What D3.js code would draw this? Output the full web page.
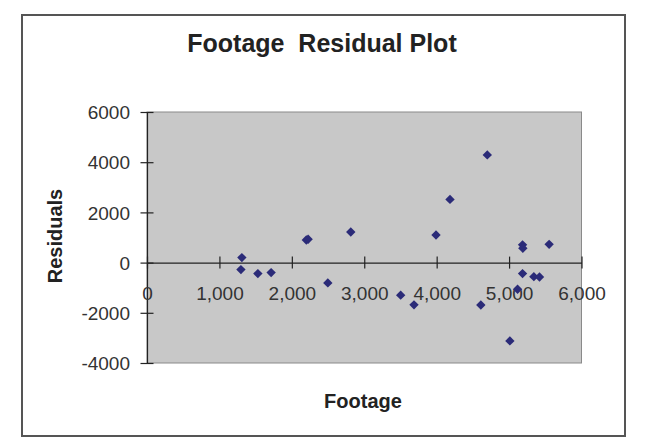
<!DOCTYPE html>
<html>
<head>
<meta charset="utf-8">
<script src="https://cdn.jsdelivr.net/npm/d3@7"></script>
<style>
  html, body { margin: 0; padding: 0; background: #fff; }
  svg { display: block; }
  text { font-family: "Liberation Sans", Arial, sans-serif; }
</style>
</head>
<body>
<svg id="chart" width="650" height="445"></svg>
<script>
// ---- data ----
const footage = [1310, 1297, 1531, 1714, 2200, 2225, 2497, 2814, 3503, 3687, 3991, 4184, 4699, 4610, 5011, 5117, 5186, 5190, 5186, 5342, 5420, 5553];
const residuals = [199, -278, -437, -398, 900, 930, -808, 1219, -1298, -1682, 1099, 2517, 4291, -1690, -3120, -1062, 708, 569, -437, -560, -575, 728];
const xTicks = [0, 1000, 2000, 3000, 4000, 5000, 6000];
const yTicks = [-4000, -2000, 0, 2000, 4000, 6000];
const titleText = "Footage  Residual Plot";
const xTitle = "Footage";
const yTitle = "Residuals";

const svg = d3.select("#chart");
const plot = { left: 147, right: 581.5, top: 112, bottom: 363 };

const x = d3.scaleLinear().domain([0, 6000]).range([plot.left, plot.right]);
const y = d3.scaleLinear().domain([-4000, 6000]).range([plot.bottom, plot.top]);

// outer chart border
svg.append("rect")
  .attr("x", 22).attr("y", 15).attr("width", 603).attr("height", 421)
  .attr("fill", "#fff").attr("stroke", "#555").attr("stroke-width", 2);

// plot area
svg.append("rect")
  .attr("x", plot.left).attr("y", plot.top)
  .attr("width", plot.right - plot.left).attr("height", plot.bottom - plot.top)
  .attr("fill", "#c8c8c8").attr("stroke", "#8a8a8a").attr("stroke-width", 1);

// title
svg.append("text")
  .attr("x", 322).attr("y", 52)
  .attr("text-anchor", "middle")
  .style("white-space", "pre")
  .attr("font-size", 25).attr("font-weight", "bold").attr("fill", "#222")
  .text(titleText);

// y axis
const yAxis = svg.append("g")
  .attr("transform", `translate(${plot.left},0)`)
  .call(d3.axisLeft(y).tickValues(yTicks).tickFormat(d => String(d)).tickSize(0).tickPadding(0));
yAxis.select(".domain").attr("stroke", "#222").attr("stroke-width", 1.2);
yAxis.selectAll(".tick line").attr("x1", -6.5).attr("x2", 6.5).attr("stroke", "#222").attr("stroke-width", 1.2);
yAxis.selectAll(".tick text")
  .attr("x", -17).attr("dy", "0.35em")
  .attr("font-size", 19).attr("fill", "#333")
  .style("font-family", "'Liberation Sans', Arial, sans-serif");

// x axis at zero
const xAxis = svg.append("g")
  .attr("transform", `translate(0,${y(0)})`)
  .call(d3.axisBottom(x).tickValues(xTicks).tickFormat(d3.format(",")).tickSize(0).tickPadding(0));
xAxis.select(".domain").attr("stroke", "#222").attr("stroke-width", 1.2);
xAxis.selectAll(".tick line").attr("y1", -6).attr("y2", 6).attr("stroke", "#222").attr("stroke-width", 1.2);
xAxis.selectAll(".tick text")
  .attr("y", 37).attr("dy", "0")
  .attr("font-size", 19).attr("fill", "#333")
  .style("font-family", "'Liberation Sans', Arial, sans-serif");

// points (diamonds)
const diamond = d3.symbol().type(d3.symbolSquare).size(44);
svg.append("g").selectAll("path")
  .data(footage.map((f, i) => ({ f, r: residuals[i] })))
  .join("path")
  .attr("d", diamond)
  .attr("transform", d => `translate(${x(d.f)},${y(d.r)}) rotate(45)`)
  .attr("fill", "#2b2b78");

// axis titles
svg.append("text")
  .attr("x", 363).attr("y", 408)
  .attr("text-anchor", "middle")
  .attr("font-size", 20).attr("font-weight", "bold").attr("fill", "#222")
  .text(xTitle);

svg.append("text")
  .attr("transform", "translate(62,236) rotate(-90)")
  .attr("text-anchor", "middle")
  .attr("font-size", 20).attr("font-weight", "bold").attr("fill", "#222")
  .text(yTitle);
</script>
</body>
</html>
